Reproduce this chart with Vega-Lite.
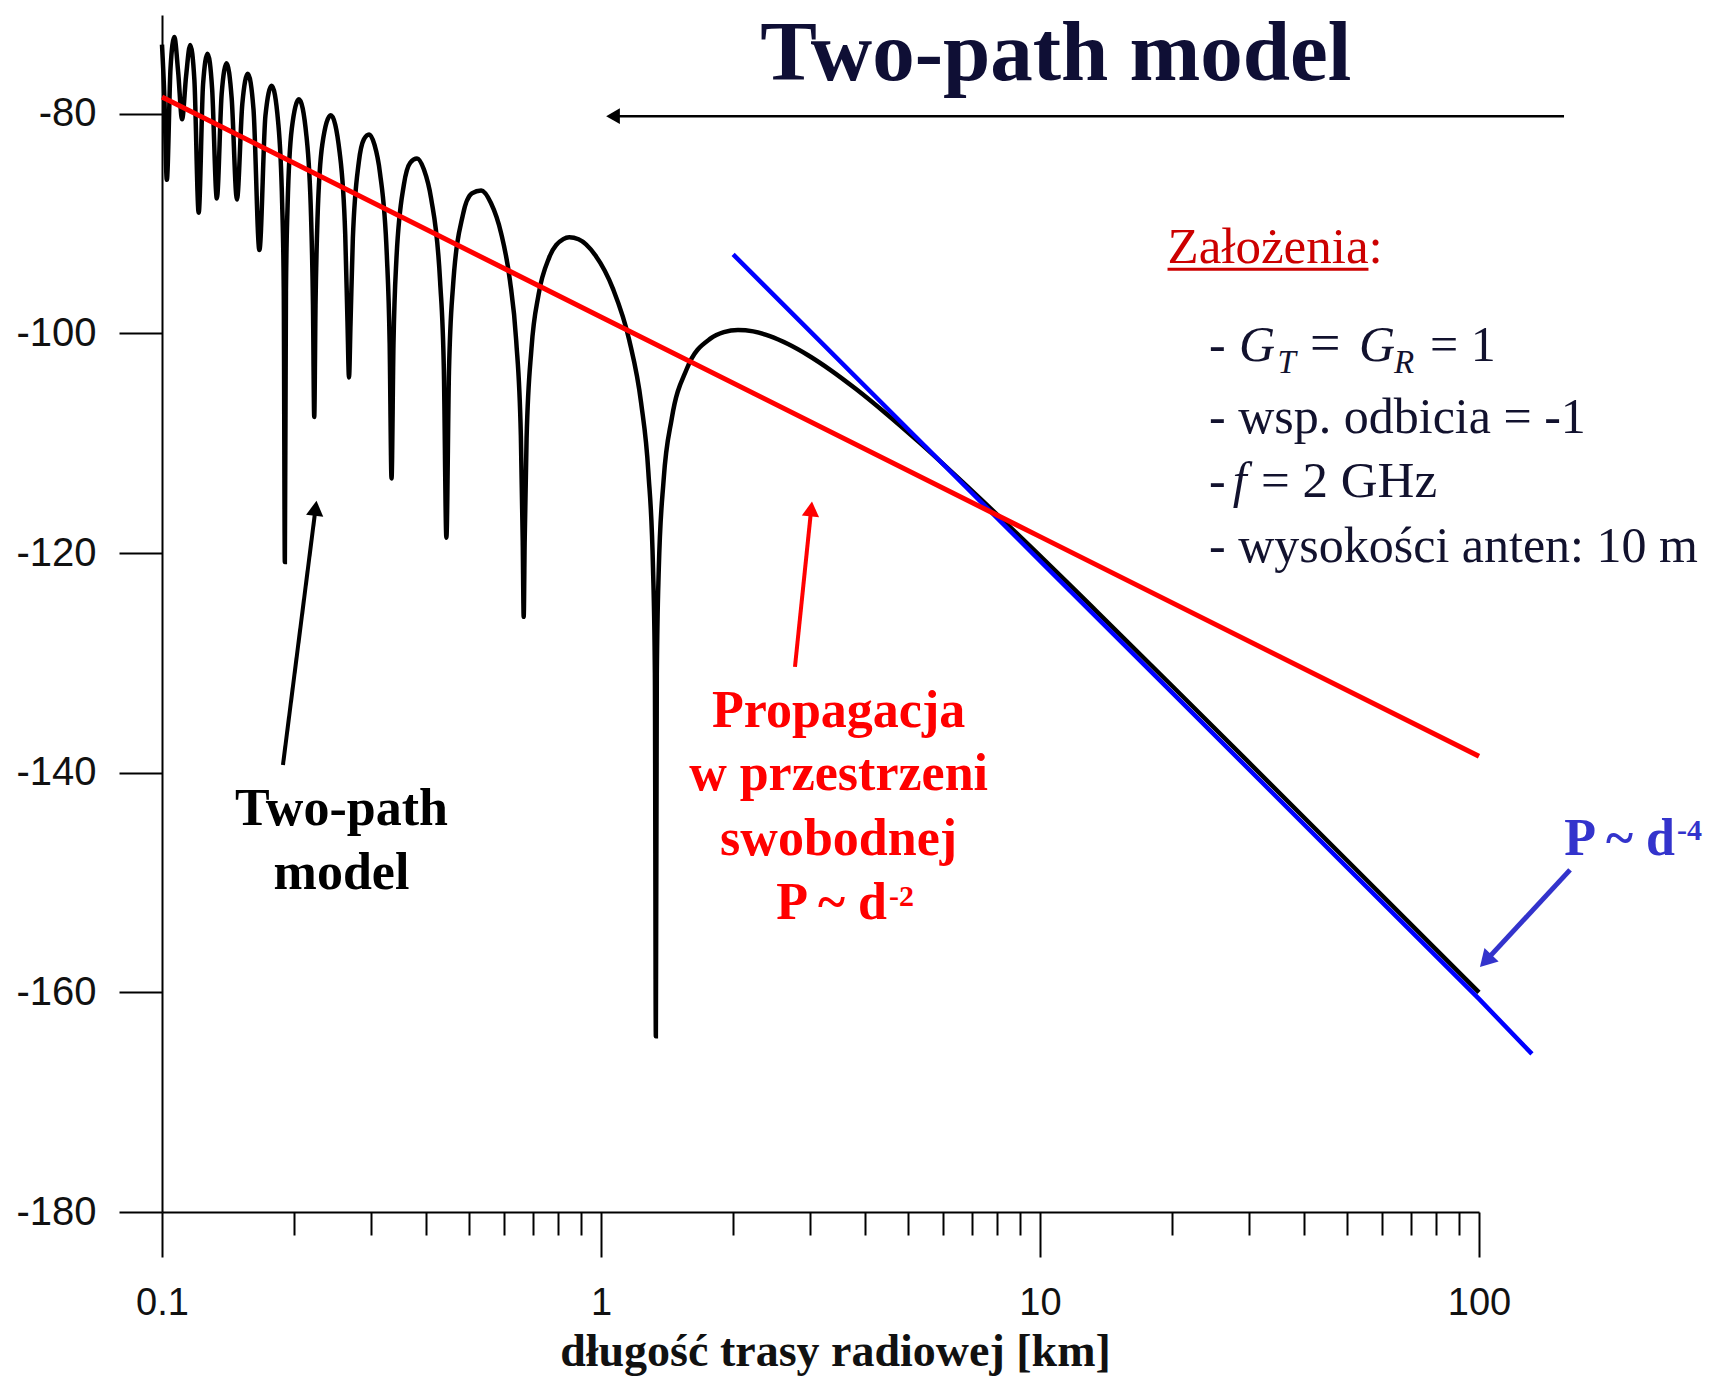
{
 "$schema": "https://vega.github.io/schema/vega-lite/v6.json",
 "width": 1317, "height": 1197,
 "autosize": {"type": "none"},
 "padding": {"left": 162, "top": 15, "right": 242, "bottom": 166},
 "background": "white",
 "config": {"view": {"stroke": null}, "axis": {"grid": false}},
 "datasets": {
  "twopath": [
   {"d":0.1,"p":-73.69},{"d":0.10124,"p":-78.42},{"d":0.102564,"p":-86.0},{"d":0.104575,"p":-75.84},{"d":0.106667,"p":-73.0},{"d":0.108844,"p":-76.19},{"d":0.111111,"p":-80.5},{"d":0.113475,"p":-76.55},{"d":0.115942,"p":-73.73},{"d":0.118519,"p":-76.93},{"d":0.121212,"p":-89.0},{"d":0.124031,"p":-77.32},{"d":0.126984,"p":-74.52},{"d":0.130081,"p":-77.74},{"d":0.133333,"p":-87.7},{"d":0.136752,"p":-78.17},{"d":0.140351,"p":-75.39},{"d":0.144144,"p":-78.63},{"d":0.148148,"p":-87.8},{"d":0.152381,"p":-79.11},{"d":0.156863,"p":-76.35},{"d":0.161616,"p":-79.62},{"d":0.166667,"p":-92.4},{"d":0.172043,"p":-80.16},{"d":0.177778,"p":-77.44},{"d":0.183908,"p":-80.74},{"d":0.187793,"p":-88.12},{"d":0.189394,"p":-96.03},{"d":0.190476,"p":-120.8},{"d":0.191571,"p":-96.13},{"d":0.193237,"p":-88.36},{"d":0.197531,"p":-81.36},{"d":0.205128,"p":-78.68},{"d":0.213333,"p":-82.03},{"d":0.218579,"p":-89.43},{"d":0.220751,"p":-97.36},{"d":0.222222,"p":-107.6},{"d":0.223714,"p":-97.48},{"d":0.225989,"p":-89.72},{"d":0.231884,"p":-82.76},{"d":0.242424,"p":-80.13},{"d":0.253968,"p":-83.55},{"d":0.261438,"p":-90.99},{"d":0.26455,"p":-98.93},{"d":0.266667,"p":-104.0},{"d":0.268817,"p":-99.07},{"d":0.272109,"p":-91.34},{"d":0.280702,"p":-84.42},{"d":0.288288,"p":-82.33},{"d":0.296296,"p":-81.88},{"d":0.304762,"p":-82.81},{"d":0.313725,"p":-85.38},{"d":0.325203,"p":-92.88},{"d":0.330033,"p":-100.85},{"d":0.333333,"p":-113.2},{"d":0.3367,"p":-101.03},{"d":0.34188,"p":-93.32},{"d":0.355556,"p":-86.47},{"d":0.367816,"p":-84.44},{"d":0.380952,"p":-84.06},{"d":0.395062,"p":-85.07},{"d":0.410256,"p":-87.71},{"d":0.430108,"p":-95.31},{"d":0.438596,"p":-103.32},{"d":0.444444,"p":-118.6},{"d":0.45045,"p":-103.56},{"d":0.45977,"p":-95.89},{"d":0.484848,"p":-89.16},{"d":0.507937,"p":-87.25},{"d":0.533333,"p":-86.98},{"d":0.561404,"p":-88.12},{"d":0.592593,"p":-90.91},{"d":0.620155,"p":-95.15},{"d":0.641026,"p":-100.67},{"d":0.656814,"p":-109.32},{"d":0.66335,"p":-118.94},{"d":0.666667,"p":-125.8},{"d":0.670017,"p":-119.02},{"d":0.676819,"p":-109.58},{"d":0.694444,"p":-101.36},{"d":0.720721,"p":-96.46},{"d":0.761905,"p":-93.09},{"d":0.820513,"p":-91.41},{"d":0.846561,"p":-91.24},{"d":0.888889,"p":-91.42},{"d":0.969697,"p":-92.86},{"d":1.066667,"p":-96.01},{"d":1.15942,"p":-100.59},{"d":1.234568,"p":-106.36},{"d":1.282051,"p":-112.64},{"d":1.313629,"p":-121.35},{"d":1.3267,"p":-130.98},{"d":1.333333,"p":-164.0},{"d":1.340034,"p":-131.06},{"d":1.353638,"p":-121.61},{"d":1.388889,"p":-113.33},{"d":1.449275,"p":-107.75},{"d":1.568627,"p":-103.21},{"d":1.777778,"p":-100.45},{"d":1.904762,"p":-99.88},{"d":2.051282,"p":-99.68},{"d":2.222222,"p":-99.81},{"d":2.424242,"p":-100.24},{"d":2.666667,"p":-100.96},{"d":2.962963,"p":-101.98},{"d":3.333333,"p":-103.33},{"d":3.809524,"p":-105.06},{"d":4.444444,"p":-107.24},{"d":5.333333,"p":-109.99},{"d":6.666667,"p":-113.54},{"d":8.888889,"p":-118.28},{"d":13.333333,"p":-125.14},{"d":20,"p":-132.1},{"d":33.333,"p":-140.94},{"d":50,"p":-147.97},{"d":100,"p":-160.0}
  ],
  "d4": [
   {"d":2.0,"p":-92.8},{"d":5,"p":-108.7},{"d":10,"p":-120.7},{"d":20,"p":-132.7},{"d":50,"p":-148.6},{"d":100,"p":-160.6},{"d":132,"p":-165.6}
  ],
  "free": [
   {"d":0.1,"p":-78.46},{"d":1,"p":-98.5},{"d":10,"p":-118.5},{"d":100,"p":-138.5}
  ]
 },
 "layer": [
  {
   "data": {"name": "twopath"},
   "mark": {"type": "line", "color": "#000000", "strokeWidth": 4.5, "clip": false, "interpolate": "monotone"},
   "encoding": {
    "x": {"field": "d", "type": "quantitative",
     "scale": {"type": "log", "domain": [0.1, 100], "nice": false},
     "axis": {
      "values": [0.1,0.2,0.3,0.4,0.5,0.6,0.7,0.8,0.9,1,2,3,4,5,6,7,8,9,10,20,30,40,50,60,70,80,90,100],
      "labelExpr": "abs(log(datum.value)/LN10 - round(log(datum.value)/LN10)) < 0.000001 ? '' + datum.value : ''",
      "tickSize": {"condition": {"test": "abs(log(datum.value)/LN10 - round(log(datum.value)/LN10)) < 0.000001", "value": 45}, "value": 23},
      "tickWidth": 2, "tickColor": "#000000", "domainColor": "#000000", "domainWidth": 2,
      "labelFont": "Liberation Sans", "labelFontSize": 38, "labelColor": "#111111", "labelPadding": 27,
      "labelOverlap": false, "labelFlush": false, "labelBound": false,
      "title": "długość trasy radiowej  [km]", "titleFont": "Liberation Serif", "titleFontSize": 46, "titleFontWeight": "bold", "titleColor": "#111111",
      "titleBaseline": "alphabetic", "titleY": 153, "titleX": 673, "titleAlign": "center"
     }},
    "y": {"field": "p", "type": "quantitative",
     "scale": {"domain": [-180, -71], "nice": false, "zero": false},
     "axis": {
      "values": [-80,-100,-120,-140,-160,-180],
      "labelExpr": "'' + datum.value",
      "tickSize": 43, "tickWidth": 2, "tickColor": "#000000", "domainColor": "#000000", "domainWidth": 2,
      "labelFont": "Liberation Sans", "labelFontSize": 40, "labelColor": "#111111", "labelPadding": 23,
      "labelOverlap": false, "labelFlush": false, "labelBound": false, "title": null
     }}
   }
  },
  {
   "data": {"name": "d4"},
   "mark": {"type": "line", "color": "#0000ff", "strokeWidth": 4.5, "clip": false},
   "encoding": {"x": {"field": "d", "type": "quantitative"}, "y": {"field": "p", "type": "quantitative"}}
  },
  {
   "data": {"name": "free"},
   "mark": {"type": "line", "color": "#ff0000", "strokeWidth": 5, "clip": false},
   "encoding": {"x": {"field": "d", "type": "quantitative"}, "y": {"field": "p", "type": "quantitative"}}
  },
  {
   "data": {"values": [{}]},
   "mark": {"type": "rule", "color": "#000000", "strokeWidth": 2.5},
   "encoding": {"x": {"datum": 1.065, "type": "quantitative"}, "x2": {"datum": 156.2}, "y": {"datum": -80.21, "type": "quantitative"}}
  },
  {
   "data": {"values": [{}]},
   "mark": {"type": "point", "shape": "triangle-left", "filled": true, "size": 250, "color": "#000000", "opacity": 1},
   "encoding": {"x": {"datum": 1.065, "type": "quantitative"}, "y": {"datum": -80.21, "type": "quantitative"}}
  },
  {
   "data": {"values": [{}]},
   "mark": {"type": "text", "text": "Two-path model", "font": "Liberation Serif", "fontSize": 85, "fontWeight": "bold", "align": "center", "baseline": "alphabetic", "color": "#0f0f35"},
   "encoding": {"x": {"datum": 10.87, "type": "quantitative"}, "y": {"datum": -76.9, "type": "quantitative"}}
  },
  {
   "data": {"values": [{}]},
   "mark": {"type": "text", "text": "Założenia:", "font": "Liberation Serif", "fontSize": 51, "align": "left", "baseline": "alphabetic", "color": "#cc0000"},
   "encoding": {"x": {"datum": 19.52, "type": "quantitative"}, "y": {"datum": -93.57, "type": "quantitative"}}
  },
  {
   "data": {"values": [{}]},
   "mark": {"type": "rule", "color": "#cc0000", "strokeWidth": 3},
   "encoding": {"x": {"datum": 19.52, "type": "quantitative"}, "x2": {"datum": 56.0}, "y": {"datum": -94.15, "type": "quantitative"}}
  },
  {
   "data": {"values": [{}]},
   "mark": {"type": "text", "text": "-", "font": "Liberation Serif", "fontSize": 50, "align": "left", "baseline": "alphabetic", "color": "#12122e"},
   "encoding": {"x": {"datum": 24.27, "type": "quantitative"}, "y": {"datum": -102.5, "type": "quantitative"}}
  },
  {
   "data": {"values": [{}]},
   "mark": {"type": "text", "text": "G", "font": "Liberation Serif", "fontSize": 50, "fontStyle": "italic", "align": "left", "baseline": "alphabetic", "color": "#12122e"},
   "encoding": {"x": {"datum": 28.4, "type": "quantitative"}, "y": {"datum": -102.5, "type": "quantitative"}}
  },
  {
   "data": {"values": [{}]},
   "mark": {"type": "text", "text": "T", "font": "Liberation Serif", "fontSize": 33, "fontStyle": "italic", "align": "left", "baseline": "alphabetic", "color": "#12122e"},
   "encoding": {"x": {"datum": 34.75, "type": "quantitative"}, "y": {"datum": -103.59, "type": "quantitative"}}
  },
  {
   "data": {"values": [{}]},
   "mark": {"type": "text", "text": "=", "font": "Liberation Serif", "fontSize": 54, "align": "left", "baseline": "alphabetic", "color": "#12122e"},
   "encoding": {"x": {"datum": 41.21, "type": "quantitative"}, "y": {"datum": -102.5, "type": "quantitative"}}
  },
  {
   "data": {"values": [{}]},
   "mark": {"type": "text", "text": "G", "font": "Liberation Serif", "fontSize": 50, "fontStyle": "italic", "align": "left", "baseline": "alphabetic", "color": "#12122e"},
   "encoding": {"x": {"datum": 53.29, "type": "quantitative"}, "y": {"datum": -102.5, "type": "quantitative"}}
  },
  {
   "data": {"values": [{}]},
   "mark": {"type": "text", "text": "R", "font": "Liberation Serif", "fontSize": 33, "fontStyle": "italic", "align": "left", "baseline": "alphabetic", "color": "#12122e"},
   "encoding": {"x": {"datum": 64.02, "type": "quantitative"}, "y": {"datum": -103.59, "type": "quantitative"}}
  },
  {
   "data": {"values": [{}]},
   "mark": {"type": "text", "text": "= 1", "font": "Liberation Serif", "fontSize": 50, "align": "left", "baseline": "alphabetic", "color": "#12122e"},
   "encoding": {"x": {"datum": 77.33, "type": "quantitative"}, "y": {"datum": -102.5, "type": "quantitative"}}
  },
  {
   "data": {"values": [{}]},
   "mark": {"type": "text", "text": "- wsp. odbicia = -1", "font": "Liberation Serif", "fontSize": 50, "align": "left", "baseline": "alphabetic", "color": "#12122e"},
   "encoding": {"x": {"datum": 24.27, "type": "quantitative"}, "y": {"datum": -109.05, "type": "quantitative"}}
  },
  {
   "data": {"values": [{}]},
   "mark": {"type": "text", "text": "-", "font": "Liberation Serif", "fontSize": 50, "align": "left", "baseline": "alphabetic", "color": "#12122e"},
   "encoding": {"x": {"datum": 24.27, "type": "quantitative"}, "y": {"datum": -114.88, "type": "quantitative"}}
  },
  {
   "data": {"values": [{}]},
   "mark": {"type": "text", "text": "f", "font": "Liberation Serif", "fontSize": 50, "fontStyle": "italic", "align": "left", "baseline": "alphabetic", "color": "#12122e"},
   "encoding": {"x": {"datum": 27.5, "type": "quantitative"}, "y": {"datum": -114.88, "type": "quantitative"}}
  },
  {
   "data": {"values": [{}]},
   "mark": {"type": "text", "text": "= 2 GHz", "font": "Liberation Serif", "fontSize": 51, "align": "left", "baseline": "alphabetic", "color": "#12122e"},
   "encoding": {"x": {"datum": 31.87, "type": "quantitative"}, "y": {"datum": -114.88, "type": "quantitative"}}
  },
  {
   "data": {"values": [{}]},
   "mark": {"type": "text", "text": "- wysokości anten: 10 m", "font": "Liberation Serif", "fontSize": 50, "align": "left", "baseline": "alphabetic", "color": "#12122e"},
   "encoding": {"x": {"datum": 24.27, "type": "quantitative"}, "y": {"datum": -120.8, "type": "quantitative"}}
  },
  {
   "data": {"values": [{}]},
   "mark": {"type": "text", "text": "Propagacja", "font": "Liberation Serif", "fontSize": 52, "fontWeight": "bold", "align": "center", "baseline": "alphabetic", "color": "#ff0000"},
   "encoding": {"x": {"datum": 3.477, "type": "quantitative"}, "y": {"datum": -135.79, "type": "quantitative"}}
  },
  {
   "data": {"values": [{}]},
   "mark": {"type": "text", "text": "w przestrzeni", "font": "Liberation Serif", "fontSize": 52, "fontWeight": "bold", "align": "center", "baseline": "alphabetic", "color": "#ff0000"},
   "encoding": {"x": {"datum": 3.477, "type": "quantitative"}, "y": {"datum": -141.59, "type": "quantitative"}}
  },
  {
   "data": {"values": [{}]},
   "mark": {"type": "text", "text": "swobodnej", "font": "Liberation Serif", "fontSize": 52, "fontWeight": "bold", "align": "center", "baseline": "alphabetic", "color": "#ff0000"},
   "encoding": {"x": {"datum": 3.477, "type": "quantitative"}, "y": {"datum": -147.49, "type": "quantitative"}}
  },
  {
   "data": {"values": [{}]},
   "mark": {"type": "text", "text": "P ~ d", "font": "Liberation Serif", "fontSize": 52, "fontWeight": "bold", "align": "right", "baseline": "alphabetic", "color": "#ff0000"},
   "encoding": {"x": {"datum": 4.482, "type": "quantitative"}, "y": {"datum": -153.29, "type": "quantitative"}}
  },
  {
   "data": {"values": [{}]},
   "mark": {"type": "text", "text": "-2", "font": "Liberation Serif", "fontSize": 30, "fontWeight": "bold", "align": "left", "baseline": "alphabetic", "color": "#ff0000"},
   "encoding": {"x": {"datum": 4.529, "type": "quantitative"}, "y": {"datum": -152.1, "type": "quantitative"}}
  },
  {
   "data": {"values": [{}]},
   "mark": {"type": "rule", "color": "#ff0000", "strokeWidth": 4},
   "encoding": {"x": {"datum": 2.766, "type": "quantitative"}, "x2": {"datum": 3.012}, "y": {"datum": -130.36, "type": "quantitative"}, "y2": {"datum": -115.98}}
  },
  {
   "data": {"values": [{}]},
   "mark": {"type": "point", "shape": "triangle-up", "filled": true, "size": 300, "color": "#ff0000", "opacity": 1, "angle": 5.9},
   "encoding": {"x": {"datum": 3.012, "type": "quantitative"}, "y": {"datum": -115.98, "type": "quantitative"}}
  },
  {
   "data": {"values": [{}]},
   "mark": {"type": "text", "text": "Two-path", "font": "Liberation Serif", "fontSize": 52, "fontWeight": "bold", "align": "center", "baseline": "alphabetic", "color": "#000000"},
   "encoding": {"x": {"datum": 0.2563, "type": "quantitative"}, "y": {"datum": -144.79, "type": "quantitative"}}
  },
  {
   "data": {"values": [{}]},
   "mark": {"type": "text", "text": "model", "font": "Liberation Serif", "fontSize": 52, "fontWeight": "bold", "align": "center", "baseline": "alphabetic", "color": "#000000"},
   "encoding": {"x": {"datum": 0.2563, "type": "quantitative"}, "y": {"datum": -150.58, "type": "quantitative"}}
  },
  {
   "data": {"values": [{}]},
   "mark": {"type": "rule", "color": "#000000", "strokeWidth": 4},
   "encoding": {"x": {"datum": 0.1886, "type": "quantitative"}, "x2": {"datum": 0.2238}, "y": {"datum": -139.29, "type": "quantitative"}, "y2": {"datum": -115.92}}
  },
  {
   "data": {"values": [{}]},
   "mark": {"type": "point", "shape": "triangle-up", "filled": true, "size": 300, "color": "#000000", "opacity": 1, "angle": 7.2},
   "encoding": {"x": {"datum": 0.2238, "type": "quantitative"}, "y": {"datum": -115.92, "type": "quantitative"}}
  },
  {
   "data": {"values": [{}]},
   "mark": {"type": "text", "text": "P ~ d", "font": "Liberation Serif", "fontSize": 52, "fontWeight": "bold", "align": "right", "baseline": "alphabetic", "color": "#3333cc"},
   "encoding": {"x": {"datum": 279.6, "type": "quantitative"}, "y": {"datum": -147.49, "type": "quantitative"}}
  },
  {
   "data": {"values": [{}]},
   "mark": {"type": "text", "text": "-4", "font": "Liberation Serif", "fontSize": 30, "fontWeight": "bold", "align": "left", "baseline": "alphabetic", "color": "#3333cc"},
   "encoding": {"x": {"datum": 282.5, "type": "quantitative"}, "y": {"datum": -146.12, "type": "quantitative"}}
  },
  {
   "data": {"values": [{}]},
   "mark": {"type": "rule", "color": "#3333cc", "strokeWidth": 5},
   "encoding": {"x": {"datum": 161.2, "type": "quantitative"}, "x2": {"datum": 103.6}, "y": {"datum": -148.85, "type": "quantitative"}, "y2": {"datum": -157.13}}
  },
  {
   "data": {"values": [{}]},
   "mark": {"type": "point", "shape": "triangle-up", "filled": true, "size": 380, "color": "#3333cc", "opacity": 1, "angle": 223.4},
   "encoding": {"x": {"datum": 103.6, "type": "quantitative"}, "y": {"datum": -157.13, "type": "quantitative"}}
  }
 ]
}
